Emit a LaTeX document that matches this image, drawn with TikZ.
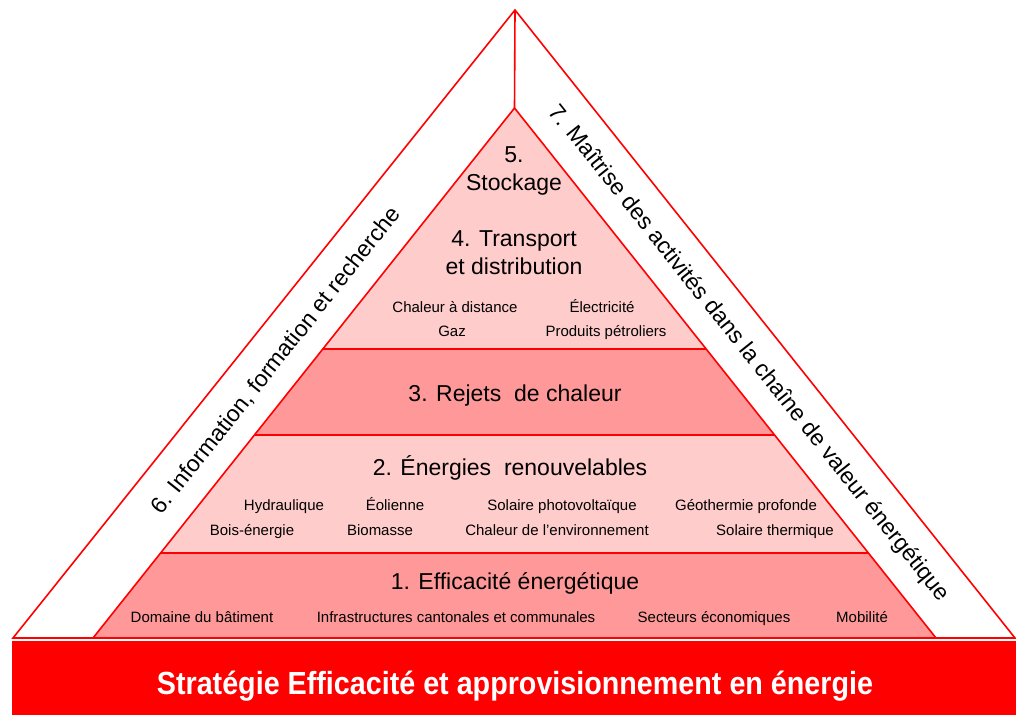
\documentclass[tikz,border=0pt]{standalone}
\usepackage{fontspec}
\setmainfont{Liberation Sans}
\usetikzlibrary{calc}
\definecolor{lightband}{HTML}{FFCCCC}
\definecolor{darkband}{HTML}{FF9999}
\definecolor{redline}{HTML}{FF0000}
\begin{document}
\begin{tikzpicture}[x=1pt,y=-1pt,
  edge/.style={draw=redline,line width=1.6pt,line join=miter},
  head/.style={font=\fontsize{23}{28}\selectfont,align=center,text=black,inner sep=0pt},
  head1/.style={font=\fontsize{23}{28}\selectfont,text=black,inner sep=0pt,text height=16.5pt,text depth=0pt},
  item/.style={font=\fontsize{15}{18}\selectfont,text=black,inner sep=0pt,text height=10.7pt,text depth=0pt},
  side/.style={font=\fontsize{23}{28}\selectfont,text=black,inner sep=0pt,text height=16.5pt,text depth=0pt}]
\useasboundingbox (0,0) rectangle (1016,715);
\fill[white] (0,0) rectangle (1016,715);
% outer triangle
\coordinate (OA) at (515,10);
\coordinate (OL) at (13,638);
\coordinate (OR) at (1015,638);
% inner triangle
\coordinate (IA) at (514.5,108);
\coordinate (IL) at (93,638);
\coordinate (IR) at (936,638);
\coordinate (L1) at ($(IA)!0.4547!(IL)$);
\coordinate (R1) at ($(IA)!0.4547!(IR)$);
\coordinate (L2) at ($(IA)!0.6170!(IL)$);
\coordinate (R2) at ($(IA)!0.6170!(IR)$);
\coordinate (L3) at ($(IA)!0.8396!(IL)$);
\coordinate (R3) at ($(IA)!0.8396!(IR)$);
\draw[edge,fill=white] (OA)--(OL)--(OR)--cycle;
\draw[edge] (OA)--(IA);
\fill[lightband] (IA)--(L1)--(R1)--cycle;
\fill[darkband] (L1)--(L2)--(R2)--(R1)--cycle;
\fill[lightband] (L2)--(L3)--(R3)--(R2)--cycle;
\fill[darkband] (L3)--(IL)--(IR)--(R3)--cycle;
\draw[edge] (IA)--(IL)--(IR)--cycle;
\draw[edge] (L1)--(R1) (L2)--(R2) (L3)--(R3);
% bottom bar
\fill[redline] (12,641) rectangle (1016,715);
\node[inner sep=0pt,anchor=base,text=white,font=\bfseries\fontsize{32}{36}\selectfont] (bar) at (515,694)
  {\scalebox{0.897}[1]{Stratégie Efficacité et approvisionnement en énergie}};
% level texts
\node[head] (n5) at (514,171) {5.\\Stockage};
\node[head] (n4) at (514,253) {4. Transport\\et distribution};
\node[item] (t1) at (455,307) {Chaleur à distance};
\node[item] (t2) at (602,307) {Électricité};
\node[item] (t3) at (452,331) {Gaz};
\node[item] (t4) at (606,331) {Produits pétroliers};
\node[head1] (n3) at (515,393) {3. Rejets\ \ de chaleur};
\node[head1] (n2) at (510,467) {2. Énergies\ \ renouvelables};
\node[item] (r1) at (284,505) {Hydraulique};
\node[item] (r2) at (395,505) {Éolienne};
\node[item] (r3) at (562,505) {Solaire photovoltaïque};
\node[item] (r4) at (746,505) {Géothermie profonde};
\node[item] (r5) at (252,530) {Bois-énergie};
\node[item] (r6) at (380,530) {Biomasse};
\node[item] (r7) at (557,530) {Chaleur de l’environnement};
\node[item] (r8) at (775,530) {Solaire thermique};
\node[head1] (n1) at (515,581) {1. Efficacité énergétique};
\node[item] (e1) at (202,617) {Domaine du bâtiment};
\node[item] (e2) at (456,617) {Infrastructures cantonales et communales};
\node[item] (e3) at (714,617) {Secteurs économiques};
\node[item] (e4) at (862,617) {Mobilité};
% side texts
\node[side,rotate=51.4] (n6) at (275,360) {6. Information, formation et recherche};
\node[side,rotate=-51.4] (n7) at (750,352) {7. Maîtrise des activités dans la chaîne de valeur\ énergétique};
\end{tikzpicture}
\end{document}
